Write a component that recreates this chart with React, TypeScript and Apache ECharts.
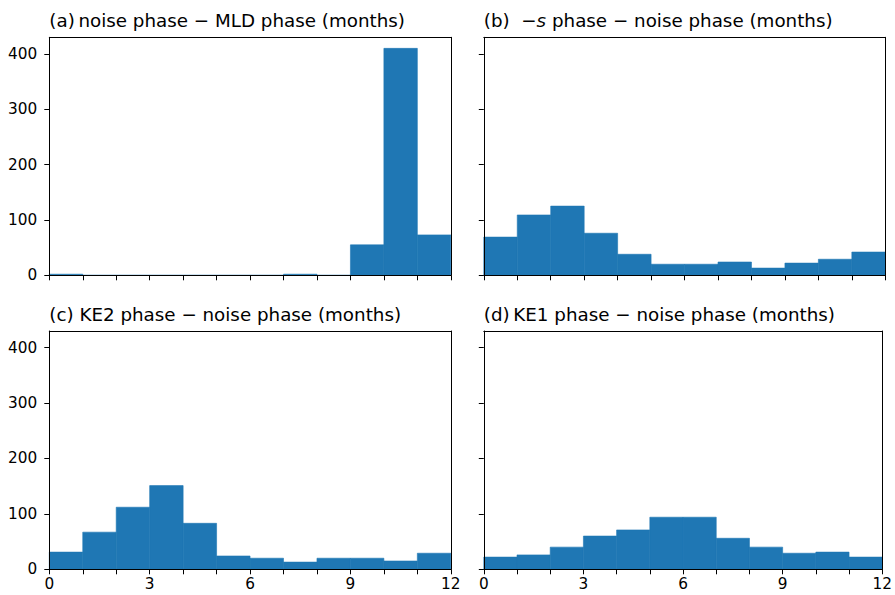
import React, { useEffect, useRef } from "react";
import * as echarts from "echarts";

const binEdges = [0, 1, 2, 3, 4, 5, 6, 7, 8, 9, 10, 11, 12];
const countsA = [2, 0, 0, 0, 0, 0, 0, 2, 0, 55, 410, 73];
const countsB = [69, 109, 125, 76, 38, 20, 20, 24, 13, 22, 29, 42];
const countsC = [31, 67, 112, 151, 83, 24, 20, 13, 20, 20, 15, 29];
const countsD = [22, 26, 40, 60, 71, 94, 94, 56, 40, 29, 31, 22];
const titles = [
  "(a)\u2009noise phase \u2212 MLD phase (months)",
  "(b)  \u2212{i|s} phase \u2212 noise phase (months)",
  "(c) KE2 phase \u2212 noise phase (months)",
  "(d)\u2009KE1 phase \u2212 noise phase (months)",
];
const xTickValues = [0, 1, 2, 3, 4, 5, 6, 7, 8, 9, 10, 11, 12];
const xLabelValues = [0, 3, 6, 9, 12];
const yTickValues = [0, 100, 200, 300, 400];
const yMax = 430;

const FONT = "DejaVu Sans";
const TITLE_SIZE = 18.3;
const TICK_SIZE = 15.3;

export default function App() {
  const ref = useRef<HTMLDivElement>(null);
  useEffect(() => {
    document.body.style.margin = "0";
    const chart = echarts.init(ref.current!, null, { renderer: "svg" });
    const allCounts = [countsA, countsB, countsC, countsD];
    const grids = [
      { left: 49.3, top: 37.3, width: 401.5, height: 238 },
      { left: 483.8, top: 37.3, width: 401.5, height: 238 },
      { left: 49.3, top: 331, width: 401.5, height: 238.3 },
      { left: 483.8, top: 331, width: 401.5, height: 238.3 },
    ];
    const xAxis: any[] = [];
    const yAxis: any[] = [];
    const series: any[] = [];
    const title: any[] = [];
    const lineStyle = { color: "#000", width: 1 };
    grids.forEach((g, i) => {
      xAxis.push({
        gridIndex: i,
        type: "value",
        min: 0,
        max: 12,
        interval: 1,
        position: "bottom",
        z: 10,
        axisLine: { show: true, onZero: false, lineStyle },
        axisTick: { show: true, inside: false, length: 5, customValues: xTickValues, lineStyle },
        axisLabel: {
          show: i >= 2,
          customValues: xLabelValues,
          margin: 7,
          color: "#000",
          fontFamily: FONT,
          fontSize: TICK_SIZE,
        },
        splitLine: { show: false },
      });
      xAxis.push({
        gridIndex: i,
        type: "value",
        min: 0,
        max: 12,
        position: "top",
        z: 10,
        axisLine: { show: true, onZero: false, lineStyle },
        axisTick: { show: false },
        axisLabel: { show: false },
        splitLine: { show: false },
      });
      yAxis.push({
        gridIndex: i,
        type: "value",
        min: 0,
        max: yMax,
        interval: 100,
        position: "left",
        z: 10,
        axisLine: { show: true, onZero: false, lineStyle },
        axisTick: { show: true, inside: false, length: 5, customValues: yTickValues, lineStyle },
        axisLabel: {
          show: i % 2 === 0,
          customValues: yTickValues,
          margin: 12,
          color: "#000",
          fontFamily: FONT,
          fontSize: TICK_SIZE,
        },
        splitLine: { show: false },
      });
      yAxis.push({
        gridIndex: i,
        type: "value",
        min: 0,
        max: yMax,
        position: "right",
        z: 10,
        axisLine: { show: true, onZero: false, lineStyle },
        axisTick: { show: false },
        axisLabel: { show: false },
        splitLine: { show: false },
      });
      const counts = allCounts[i];
      series.push({
        type: "custom",
        xAxisIndex: i * 2,
        yAxisIndex: i * 2,
        encode: { x: [0, 1], y: 2 },
        data: counts.map((c, k) => [binEdges[k], binEdges[k + 1], c]),
        renderItem: (params: any, api: any) => {
          const x0 = api.value(0);
          const x1 = api.value(1);
          const y = api.value(2);
          const p0 = api.coord([x0, y]);
          const p1 = api.coord([x1, 0]);
          return {
            type: "rect",
            shape: { x: p0[0], y: p0[1], width: p1[0] - p0[0], height: p1[1] - p0[1] },
            style: { fill: "#1f77b4", stroke: "#1f77b4", lineWidth: 0.6 },
          };
        },
      });
      title.push({
        text: titles[i],
        left: g.left,
        top: g.top - 26,
        padding: 0,
        textStyle: {
          fontFamily: FONT,
          fontSize: TITLE_SIZE,
          fontWeight: "normal",
          color: "#000",
          rich: {
            i: { fontFamily: FONT, fontSize: TITLE_SIZE, fontStyle: "italic", color: "#000" },
          },
        },
      });
    });
    chart.setOption({
      animation: false,
      backgroundColor: "#fff",
      title,
      grid: grids,
      xAxis,
      yAxis,
      series,
    });
    return () => chart.dispose();
  }, []);
  return <div ref={ref} style={{ width: 895, height: 595 }} />;
}
